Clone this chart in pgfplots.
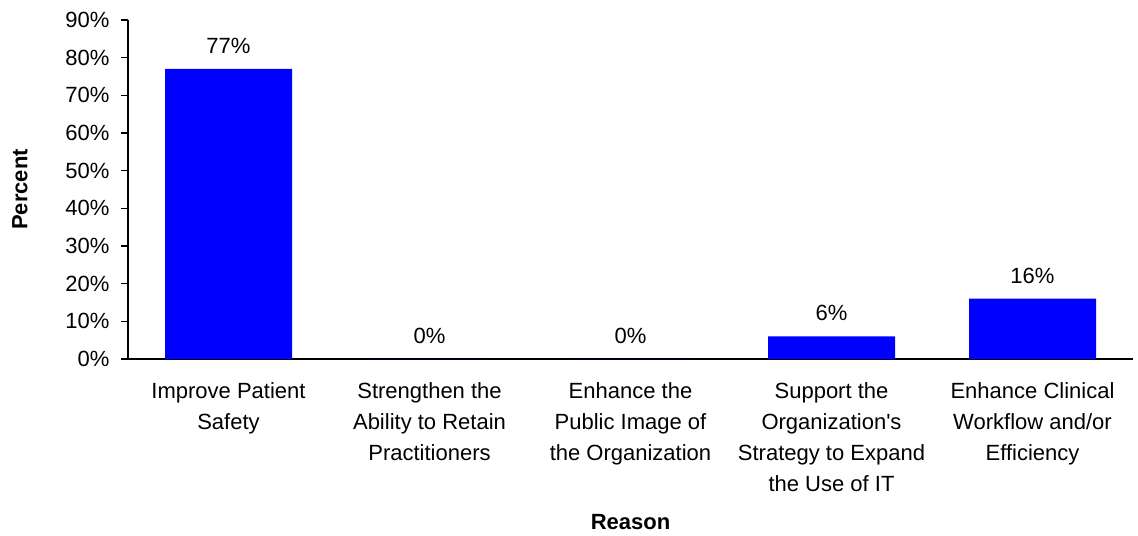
\documentclass[border=0pt]{standalone}
\usepackage{pgfplots}
\pgfplotsset{compat=1.18}
\usepackage{fontspec}
\setmainfont{Liberation Sans}
\definecolor{barblue}{RGB}{0,0,255}
\begin{document}
\begin{tikzpicture}
\begin{axis}[
  scale only axis, width=1005pt, height=339pt,
  xmin=-0.5, xmax=4.5, ymin=0, ymax=90,
  ybar, bar width=127pt,
  axis x line*=bottom, axis y line*=left,
  axis line style={line width=1.5pt},
  ytick={0,10,...,90},
  yticklabel={\pgfmathprintnumber{\tick}\%},
  /pgf/number format/assume math mode=true,
  tick align=outside, major tick length=7pt,
  ytick style={line width=1.5pt, black},
  xtick=data, xtick style={draw=none},
  xticklabels={{Improve Patient\\Safety},{Strengthen the\\Ability to Retain\\Practitioners},{Enhance the\\Public Image of\\the Organization},{Support the\\Organization\textquotesingle s\\Strategy to Expand\\the Use of IT},{Enhance Clinical\\Workflow and/or\\Efficiency}},
  xticklabel style={align=center, anchor=north, yshift=-13pt, font=\fontsize{22}{31}\selectfont},
  yticklabel style={font=\fontsize{22}{26}\selectfont, xshift=-8pt},
  every axis y label/.style={at={(axis description cs:0,0.5)}, xshift=-108pt, rotate=90, anchor=center, font=\bfseries\fontsize{22}{26}\selectfont},
  every axis x label/.style={at={(axis description cs:0.5,0)}, yshift=-163pt, anchor=center, font=\bfseries\fontsize{22}{26}\selectfont},
  ylabel={Percent}, xlabel={Reason},
  nodes near coords={\pgfmathprintnumber{\pgfplotspointmeta}\%},
  every node near coord/.append style={font=\fontsize{22}{26}\selectfont, anchor=center, yshift=23pt, black},
]
\addplot[fill=barblue, draw=none] coordinates {(0,77) (1,0) (2,0) (3,6) (4,16)};
\end{axis}
\path[use as bounding box] ([xshift=-128pt,yshift=-176pt]current axis.south west) rectangle ([xshift=5pt,yshift=20pt]current axis.north east);
\end{tikzpicture}
\end{document}
